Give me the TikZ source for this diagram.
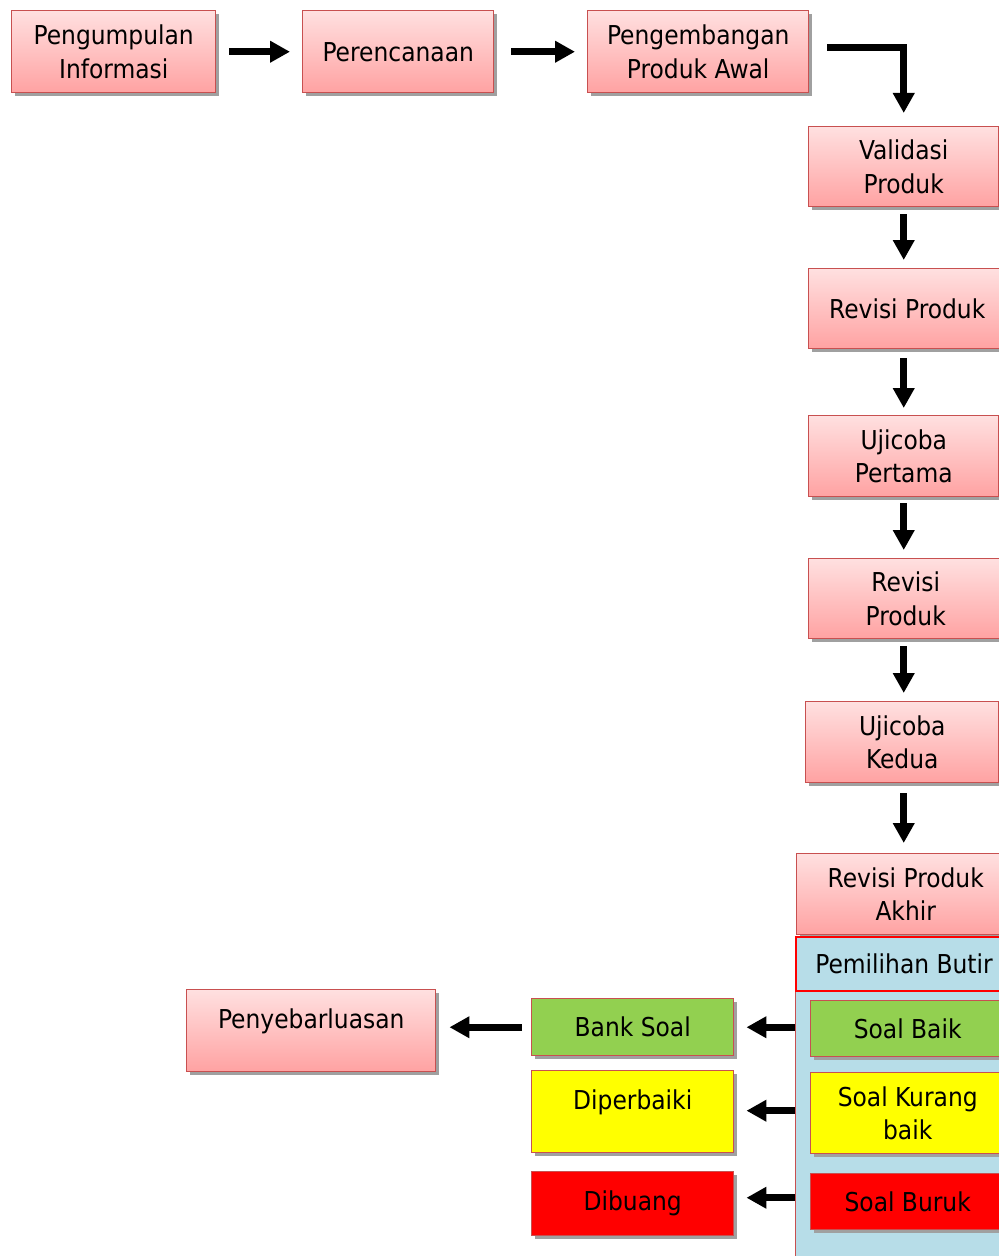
\documentclass[tikz,border=0pt]{standalone}
\usepackage{fontspec}
\setmainfont{DejaVu Sans Condensed}
\usetikzlibrary{arrows.meta,shadows}
\definecolor{pinktop}{RGB}{255,224,224}
\definecolor{pinkbot}{RGB}{255,162,162}
\definecolor{boxborder}{RGB}{200,80,80}
\definecolor{shadowgray}{RGB}{160,160,160}
\definecolor{lightblue}{RGB}{183,221,232}
\definecolor{grn}{RGB}{146,208,80}
\definecolor{yel}{RGB}{255,255,0}
\definecolor{rd}{RGB}{255,0,0}
\begin{document}
\begin{tikzpicture}[x=0.75pt,y=-0.75pt,
  sz/.style 2 args={minimum width=#1*0.75pt, minimum height=#2*0.75pt},
  box/.style={draw=boxborder, line width=1.1pt, anchor=north west, inner sep=0pt,
    align=center, font=\fontsize{19.5}{25}\selectfont,
    drop shadow={shadow xshift=2.4pt, shadow yshift=-2.4pt, fill=shadowgray, opacity=1}},
  pinkbox/.style={box, top color=pinktop, bottom color=pinkbot},
  greenbox/.style={box, fill=grn},
  yellowbox/.style={box, fill=yel},
  redbox/.style={box, fill=rd},
  toptext/.style={text height=29pt, text depth=32.5pt},
  arr/.style={line width=5pt, -{Triangle[length=15pt,width=15.5pt]}}
]
\useasboundingbox (0,0) rectangle (999,1256);
% top row
\node[pinkbox, sz={204}{82}] (info) at (11,10) {Pengumpulan\\Informasi};
\node[pinkbox, sz={191}{82}] (plan) at (302,10) {Perencanaan};
\node[pinkbox, sz={221}{82}] (dev) at (587,10) {Pengembangan\\Produk Awal};
% right column
\node[pinkbox, sz={190}{80}] (valid) at (808,126) {Validasi\\Produk};
\node[pinkbox, sz={197}{80}] (rev1) at (808,268) {Revisi Produk};
\node[pinkbox, sz={190}{81}] (uji1) at (808,415) {Ujicoba\\Pertama};
\node[pinkbox, sz={194}{80}] (rev2) at (808,558) {Revisi\\Produk};
\node[pinkbox, sz={193}{81}] (uji2) at (805,701) {Ujicoba\\Kedua};
\node[pinkbox, sz={218}{81}] (revakhir) at (796,853) {Revisi Produk\\Akhir};
% container
\node[draw=boxborder, line width=0.8pt, fill=lightblue, anchor=north west, inner sep=0pt, sz={220}{280}] (cont) at (795,990) {};
\node[draw=rd, line width=1.6pt, fill=lightblue, anchor=north west, inner sep=0pt,
  font=\fontsize{19.5}{25}\selectfont, sz={216}{54}] (pilih) at (795,936) {Pemilihan Butir};
\node[greenbox, sz={194}{56}] (baik) at (810,1000) {Soal Baik};
\node[yellowbox, sz={194}{81}] (kurang) at (810,1072) {Soal Kurang\\baik};
\node[redbox, sz={194}{56}] (buruk) at (810,1173) {Soal Buruk};
% left column
\node[greenbox, sz={202}{57}] (bank) at (531,998) {Bank Soal};
\node[yellowbox, sz={202}{82}, toptext] (dip) at (531,1070) {Diperbaiki};
\node[redbox, sz={202}{64}] (buang) at (531,1171) {Dibuang};
\node[pinkbox, sz={249}{82}, toptext] (peny) at (186,989) {Penyebarluasan};
% connectors
\draw[arr, shorten <=9.75pt, shorten >=9pt] (info.east) -- (plan.west);
\draw[arr, shorten <=12.75pt, shorten >=9pt] (plan.east) -- (dev.west);
\draw[arr] ([xshift=13.5pt,yshift=3pt]dev.east) -| ([yshift=9.75pt]valid.north);
\draw[arr, shorten <=5.25pt, shorten >=6pt] (valid.south) -- (valid.south |- rev1.north);
\draw[arr, shorten <=6.75pt, shorten >=5.25pt] (valid.south |- rev1.south) -- (valid.south |- uji1.north);
\draw[arr, shorten <=4.5pt, shorten >=6pt] (uji1.south) -- (uji1.south |- rev2.north);
\draw[arr, shorten <=5.25pt, shorten >=6pt] (uji1.south |- rev2.south) -- (uji1.south |- uji2.north);
\draw[arr, shorten <=7.5pt, shorten >=7.5pt] (uji1.south |- uji2.south) -- (uji1.south |- revakhir.north);
\draw[arr, shorten >=9pt] (bank.east -| cont.west) -- (bank.east);
\draw[arr, shorten >=9pt] ([yshift=1.9pt]kurang.west -| cont.west) -- ([yshift=1.9pt]kurang.west -| dip.east);
\draw[arr, shorten >=9pt] ([yshift=3pt]buruk.west -| cont.west) -- ([yshift=3pt]buruk.west -| buang.east);
\draw[arr, shorten <=6.75pt, shorten >=9.75pt] (bank.west) -- (bank.west -| peny.east);
\end{tikzpicture}
\end{document}
